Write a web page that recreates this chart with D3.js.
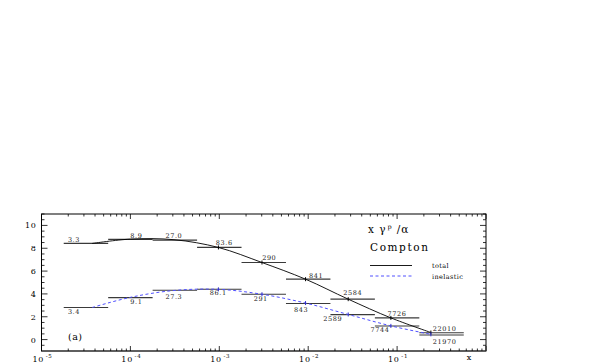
<!DOCTYPE html>
<html>
<head>
<meta charset="utf-8">
<script src="https://cdnjs.cloudflare.com/ajax/libs/d3/7.8.5/d3.min.js"></script>
<style>
  body { margin: 0; background: #fff; }
  svg { display: block; }
</style>
</head>
<body>
<div id="chart"></div>
<script>
// bin edges in log10(x)
const binEdges = [-4.75, -4.25, -3.75, -3.25, -2.75, -2.25, -1.75, -1.25, -0.75, -0.25];
const totalBins = [8.42, 8.77, 8.71, 8.07, 6.75, 5.29, 3.54, 1.9, 0.6];
const inelBins = [2.81, 3.68, 4.32, 4.41, 3.97, 3.16, 2.19, 1.19, 0.4];
const totalLabels = ["3.3", "8.9", "27.0", "83.6", "290", "841", "2584", "7726", "22010"];
const inelLabels = ["3.4", "9.1", "27.3", "86.1", "291", "843", "2589", "7744", "21970"];

// curves (log10 x, value)
const curveX = [-4.43, -4.0, -3.51, -3.01, -2.52, -2.03, -1.55, -1.07, -0.62];
const totalCurve = [8.42, 8.8, 8.75, 8.07, 6.75, 5.29, 3.54, 1.9, 0.62];
const inelCurve = [2.81, 3.7, 4.3, 4.4, 3.97, 3.2, 2.2, 1.2, 0.46];

const xDomain = [1e-5, 1];
const yDomain = [-1, 11];
const yMajor = [0, 2, 4, 6, 8, 10];

// label nudges (px) relative to the bin centre
const totalNudge = [[-12, -4], [6, -3.5], [-1, -4.5], [5, -5], [5.5, -5], [8, -4], [0, -7], [0, -4.6], [3, -4.7]];
const inelNudge = [[-12, 4.2], [6, 4.1], [-1, 6], [-1, 3.5], [-3, 4], [-7, 5.8], [-20, 3.7], [-17, 3.3], [3, 6]];

const W = 599, H = 364;
const mLeft = 41.5, mRight = 486, mTop = 214, mBottom = 351;
const serif = "'DejaVu Serif', 'Liberation Serif', serif";

const svg = d3.select("#chart").append("svg")
  .attr("width", W).attr("height", H)
  .attr("font-family", serif);

const x = d3.scaleLog().domain(xDomain).range([mLeft, mRight]);
const y = d3.scaleLinear().domain(yDomain).range([mBottom, mTop]);

// frame
svg.append("rect")
  .attr("x", mLeft).attr("y", mTop)
  .attr("width", mRight - mLeft).attr("height", mBottom - mTop)
  .attr("fill", "none").attr("stroke", "#000").attr("stroke-width", 1);
svg.append("line")
  .attr("x1", mLeft).attr("x2", mRight).attr("y1", mBottom).attr("y2", mBottom)
  .attr("stroke", "#555").attr("stroke-width", 1.6);

// x ticks (bottom + top), log
const xt = x.ticks();
const isMajor = v => Math.abs(Math.log10(v) - Math.round(Math.log10(v))) < 1e-6;
const xTicks = svg.append("g").attr("stroke", "#000").attr("stroke-width", 0.8);
xTicks.selectAll("line.b").data(xt).join("line")
  .attr("class", "b")
  .attr("x1", d => x(d)).attr("x2", d => x(d))
  .attr("y1", mBottom).attr("y2", d => mBottom - (isMajor(d) ? 5 : 2.5));
xTicks.selectAll("line.t").data(xt).join("line")
  .attr("class", "t")
  .attr("x1", d => x(d)).attr("x2", d => x(d))
  .attr("y1", mTop).attr("y2", d => mTop + (isMajor(d) ? 5 : 2.5));

const xLab = svg.append("g").attr("font-size", 8).attr("fill", "#000").attr("letter-spacing", 0.8);
xt.filter(d => isMajor(d) && d < 1).forEach(d => {
  const t = xLab.append("text")
    .attr("x", x(d) + 1).attr("y", mBottom + 10.5)
    .attr("text-anchor", "middle");
  t.append("tspan").text("10");
  t.append("tspan").attr("font-size", 5.5).attr("dy", -4).attr("dx", 1.5)
    .text("-" + Math.round(-Math.log10(d)));
});
svg.append("text").attr("x", 469).attr("y", 360)
  .attr("text-anchor", "middle").attr("font-size", 8).text("x");

// y ticks (left + right)
const yMinor = d3.range(-0.5, 11.01, 0.5);
const yTicks = svg.append("g").attr("stroke", "#000").attr("stroke-width", 0.8);
yTicks.selectAll("line.l").data(yMinor).join("line")
  .attr("class", "l")
  .attr("x1", mLeft).attr("x2", d => mLeft + (d % 2 === 0 ? 6 : 3))
  .attr("y1", d => y(d)).attr("y2", d => y(d));
yTicks.selectAll("line.r").data(yMinor).join("line")
  .attr("class", "r")
  .attr("x1", mRight).attr("x2", d => mRight - (d % 2 === 0 ? 6 : 3))
  .attr("y1", d => y(d)).attr("y2", d => y(d));
svg.append("g").attr("font-size", 8).attr("letter-spacing", 0.6)
  .selectAll("text").data(yMajor).join("text")
  .attr("x", 36.5).attr("y", d => y(d) + 3)
  .attr("text-anchor", "end")
  .text(d => d);

// bins
const bins = (vals) => vals.map((v, i) => ({ x0: binEdges[i], x1: binEdges[i + 1], v }));
const barG = svg.append("g").attr("stroke", "#3a3a3a").attr("stroke-width", 1.2);
[totalBins, inelBins].forEach(vals => {
  barG.append("g").selectAll("line").data(bins(vals)).join("line")
    .attr("x1", d => x(Math.pow(10, d.x0))).attr("x2", d => x(Math.pow(10, d.x1)))
    .attr("y1", d => y(d.v)).attr("y2", d => y(d.v));
});

// bin labels
const labG = svg.append("g").attr("font-size", 6.5).attr("fill", "#222")
  .attr("text-anchor", "middle").attr("letter-spacing", 0.6);
const addLabels = (vals, labels, nudge) => {
  labG.append("g").selectAll("text").data(bins(vals)).join("text")
    .attr("x", (d, i) => x(Math.pow(10, (d.x0 + d.x1) / 2)) + nudge[i][0])
    .attr("y", (d, i) => y(d.v) + nudge[i][1] + 2.5)
    .text((d, i) => labels[i]);
};
addLabels(totalBins, totalLabels, totalNudge);
addLabels(inelBins, inelLabels, inelNudge);

// curves
const line = d3.line()
  .x(d => x(Math.pow(10, d[0])))
  .y(d => y(d[1]))
  .curve(d3.curveCatmullRom);
const totalPts = curveX.map((c, i) => [c, totalCurve[i]]);
const inelPts = curveX.map((c, i) => [c, inelCurve[i]]);

svg.append("path").datum(totalPts)
  .attr("d", line).attr("fill", "none")
  .attr("stroke", "#000").attr("stroke-width", 0.9);
svg.append("path").datum(inelPts)
  .attr("d", line).attr("fill", "none")
  .attr("stroke", "#5050ff").attr("stroke-width", 1)
  .attr("stroke-dasharray", "3,2.5");

// little error ticks on the curve points
[[totalPts, "#000"], [inelPts, "#3030d0"]].forEach(([pts, c]) => {
  svg.append("g").selectAll("line").data(pts.slice(3)).join("line")
    .attr("x1", d => x(Math.pow(10, d[0]))).attr("x2", d => x(Math.pow(10, d[0])))
    .attr("y1", d => y(d[1]) - 2).attr("y2", d => y(d[1]) + 2)
    .attr("stroke", c).attr("stroke-width", 1);
});

// legend
const lg = svg.append("g");
const title = lg.append("text").attr("x", 368).attr("y", 233).attr("font-size", 10.5).attr("letter-spacing", 1);
title.append("tspan").text("x γ");
title.append("tspan").attr("font-size", 6.5).attr("dy", -4).attr("dx", 1).text("p");
title.append("tspan").attr("dy", 4).attr("dx", 4).text("/α");
lg.append("text").attr("x", 370).attr("y", 250.5).attr("font-size", 10.5)
  .attr("letter-spacing", 1.6).text("Compton");
lg.append("line").attr("x1", 370).attr("x2", 412).attr("y1", 265.5).attr("y2", 265.5)
  .attr("stroke", "#000").attr("stroke-width", 0.9);
lg.append("line").attr("x1", 370).attr("x2", 412).attr("y1", 276).attr("y2", 276)
  .attr("stroke", "#5050ff").attr("stroke-width", 1).attr("stroke-dasharray", "3,2.5");
lg.append("text").attr("x", 432).attr("y", 268).attr("font-size", 6.5).attr("letter-spacing", 0.4).text("total");
lg.append("text").attr("x", 432).attr("y", 278.5).attr("font-size", 6.5).attr("letter-spacing", 0.4).text("inelastic");

// panel tag
svg.append("text").attr("x", 68).attr("y", 340).attr("font-size", 9.5).attr("letter-spacing", 0.5).text("(a)");
</script>
</body>
</html>
